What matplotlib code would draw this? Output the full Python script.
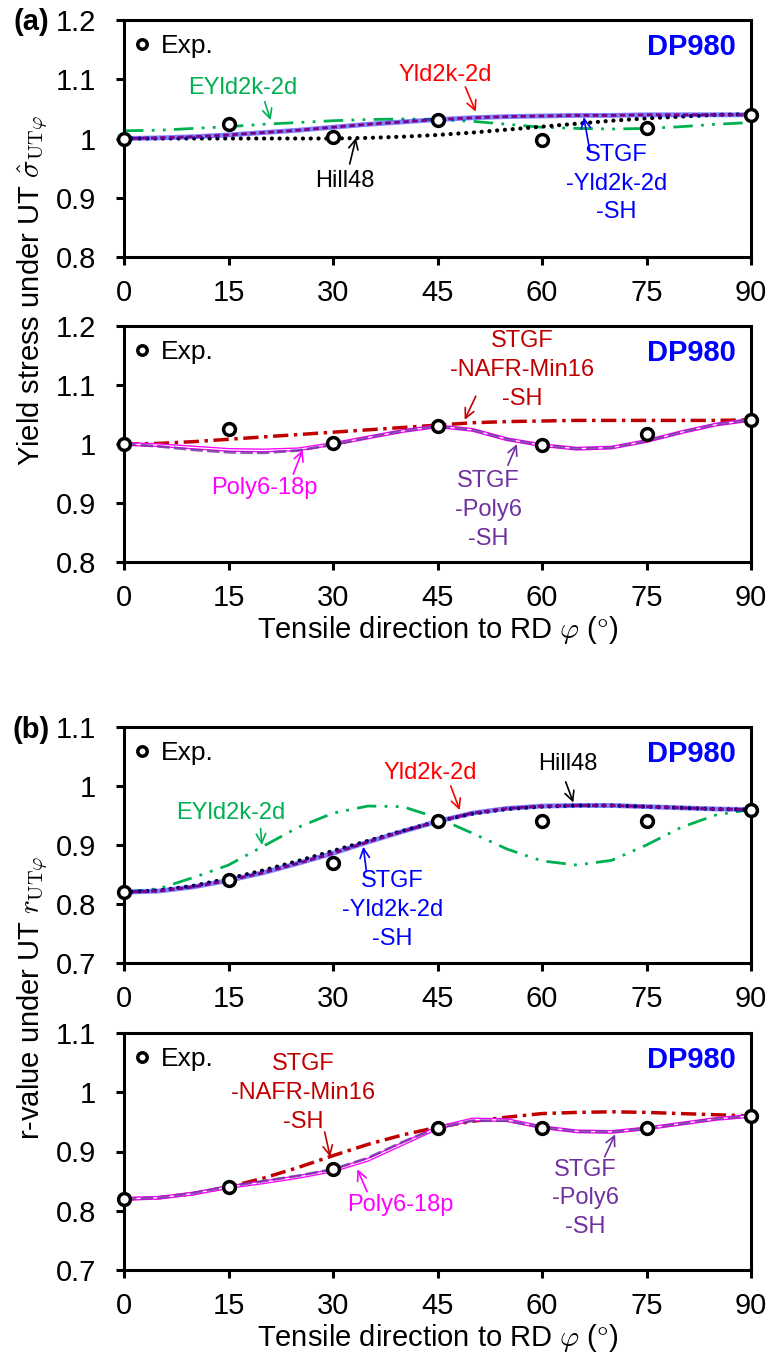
import matplotlib.pyplot as plt

plt.rcParams['font.family'] = ['Liberation Sans', 'DejaVu Sans']
plt.rcParams['mathtext.fontset'] = 'cm'
plt.rcParams['lines.scale_dashes'] = False

# ---- data ----
ang_exp = [0, 15, 30, 45, 60, 75, 90]
ang = list(range(0, 91, 5))
xticks = [0, 15, 30, 45, 60, 75, 90]

ys_ticks = [0.8, 0.9, 1.0, 1.1, 1.2]
ys_ticklabels = ['0.8', '0.9', '1', '1.1', '1.2']
r_ticks = [0.7, 0.8, 0.9, 1.0, 1.1]
r_ticklabels = ['0.7', '0.8', '0.9', '1', '1.1']

ys_exp = [1.000, 1.025, 1.002, 1.031, 0.998, 1.017, 1.040]
r_exp = [0.82, 0.84, 0.87, 0.94, 0.94, 0.94, 0.96]

# yield stress, upper panel
ys_yld2k = [1.000, 1.001, 1.003, 1.006, 1.010, 1.014, 1.019, 1.024, 1.028, 1.032,
            1.035, 1.037, 1.038, 1.039, 1.039, 1.040, 1.040, 1.040, 1.040]
ys_stgf_yld = [1.000, 1.001, 1.003, 1.006, 1.010, 1.014, 1.019, 1.024, 1.028, 1.032,
               1.035, 1.037, 1.038, 1.039, 1.039, 1.040, 1.040, 1.040, 1.040]
ys_hill = [1.000, 1.000, 1.000, 1.000, 1.000, 1.000, 1.000, 1.001, 1.003, 1.006,
           1.010, 1.015, 1.020, 1.025, 1.030, 1.034, 1.037, 1.040, 1.041]
ys_eyld = [1.013, 1.014, 1.017, 1.020, 1.024, 1.027, 1.030, 1.032, 1.033, 1.032,
           1.029, 1.024, 1.019, 1.017, 1.016, 1.017, 1.020, 1.024, 1.027]
# yield stress, lower panel
ys_nafr = [1.000, 1.001, 1.004, 1.008, 1.012, 1.016, 1.020, 1.024, 1.028, 1.032,
           1.036, 1.038, 1.039, 1.040, 1.040, 1.040, 1.040, 1.040, 1.041]
ys_poly18 = [1.000, 0.998, 0.994, 0.990, 0.989, 0.991, 1.000, 1.011, 1.022, 1.030,
             1.024, 1.008, 0.998, 0.992, 0.994, 1.005, 1.020, 1.033, 1.041]
ys_stgf_poly = [1.000, 0.996, 0.990, 0.986, 0.985, 0.989, 0.999, 1.011, 1.022, 1.030,
                1.024, 1.008, 0.998, 0.992, 0.994, 1.005, 1.020, 1.033, 1.041]

# r-value, upper panel
r_yld2k = [0.820, 0.822, 0.829, 0.840, 0.853, 0.869, 0.886, 0.905, 0.923, 0.940,
           0.954, 0.962, 0.966, 0.967, 0.967, 0.965, 0.963, 0.961, 0.960]
r_stgf_yld = [0.820, 0.822, 0.829, 0.840, 0.853, 0.869, 0.886, 0.905, 0.923, 0.940,
              0.954, 0.962, 0.966, 0.967, 0.967, 0.965, 0.963, 0.961, 0.960]
r_hill = [0.820, 0.823, 0.831, 0.843, 0.857, 0.873, 0.890, 0.907, 0.924, 0.940,
          0.953, 0.961, 0.965, 0.967, 0.967, 0.965, 0.963, 0.961, 0.960]
r_eyld = [0.820, 0.826, 0.845, 0.866, 0.898, 0.930, 0.954, 0.966, 0.965, 0.946,
          0.920, 0.893, 0.873, 0.866, 0.874, 0.900, 0.930, 0.951, 0.960]
# r-value, lower panel
r_nafr = [0.820, 0.822, 0.829, 0.840, 0.855, 0.873, 0.893, 0.912, 0.928, 0.941,
          0.951, 0.958, 0.964, 0.966, 0.967, 0.966, 0.964, 0.962, 0.960]
r_poly18 = [0.820, 0.822, 0.829, 0.840, 0.848, 0.857, 0.868, 0.886, 0.913, 0.940,
            0.954, 0.953, 0.941, 0.934, 0.933, 0.939, 0.947, 0.955, 0.960]
r_stgf_poly = [0.820, 0.822, 0.830, 0.841, 0.850, 0.859, 0.870, 0.889, 0.916, 0.940,
               0.952, 0.952, 0.941, 0.934, 0.933, 0.939, 0.947, 0.955, 0.960]

GREEN = '#00B050'
RED = '#FF0000'
BLUE = '#0000FF'
DRED = '#C00000'
MAG = '#FF00FF'
PURP = '#7030A0'

fig = plt.figure(figsize=(7.69, 13.57), dpi=100)
L, W = 124 / 769, 627 / 769
H = 1357
axs = [fig.add_axes([L, 1 - 257 / H, W, 237 / H]),
       fig.add_axes([L, 1 - 562 / H, W, 236 / H]),
       fig.add_axes([L, 1 - 963 / H, W, 236 / H]),
       fig.add_axes([L, 1 - 1270 / H, W, 237 / H])]


def setup(ax, yt, ytl, exp):
    ax.set_xlim(0, 90)
    ax.set_ylim(yt[0], yt[-1])
    ax.set_xticks(xticks)
    ax.set_yticks(yt)
    ax.set_yticklabels(ytl)
    for s in ax.spines.values():
        s.set_linewidth(2.2)
    ax.tick_params(direction='out', length=6, width=2.2, labelsize=21)
    ax.tick_params(axis='x', pad=10)
    ax.tick_params(axis='y', pad=14)
    h, = ax.plot(ang_exp, exp, 'o', ms=8.5, mfc='white', mec='black', mew=2.5,
                 clip_on=False, zorder=10)
    ax.legend([h], ['Exp.'], loc='upper left', bbox_to_anchor=(0, 0.983),
              borderaxespad=0, borderpad=0.38, frameon=False, fontsize=19,
              handlelength=0.6, handletextpad=0.4, markerscale=0.8)
    ax.text(0.976, 0.886, 'DP980', transform=ax.transAxes, ha='right', va='center',
            color=BLUE, fontsize=21, fontweight='bold')


def label(ax, txt, pos, tail, tip, c):
    ax.text(pos[0], pos[1], txt, color=c, fontsize=17, ha='center', va='center',
            linespacing=1.4)
    ax.annotate('', xy=tip, xytext=tail,
                arrowprops=dict(arrowstyle='->', color=c, lw=1.2,
                                shrinkA=0, shrinkB=0, mutation_scale=17))


green_ls = (0, (14, 6, 2, 6, 2, 6))
dred_ls = (0, (11, 4, 2.5, 4))
dot_ls = (0, (0.1, 5.5))

# (a) upper
ax = axs[0]
ax.plot(ang, ys_eyld, color=GREEN, lw=2, ls=green_ls)
ax.plot(ang, ys_hill, color='black', lw=3, ls=dot_ls, dash_capstyle='round')
ax.plot(ang, ys_yld2k, color=RED, lw=2, ls=(0, (4, 2.5)))
ax.plot(ang, ys_stgf_yld, color=BLUE, lw=3.5, alpha=0.5)
setup(ax, ys_ticks, ys_ticklabels, ys_exp)
label(ax, 'EYld2k-2d', (17.0, 1.086), (20.2, 1.062), (21.05, 1.031), GREEN)
label(ax, 'Yld2k-2d', (46.1, 1.108), (49.0, 1.087), (50.5, 1.045), RED)
label(ax, 'Hill48', (31.7, 0.929), (32.4, 0.957), (33.3, 1.001), 'black')
label(ax, 'STGF\n-Yld2k-2d\n-SH', (70.7, 0.924), (66.9, 0.977), (66.0, 1.036), BLUE)

# (a) lower
ax = axs[1]
ax.plot(ang, ys_nafr, color=DRED, lw=2.5, ls=dred_ls)
ax.plot(ang, ys_poly18, color=MAG, lw=2.8)
ax.plot(ang, ys_poly18, color='white', lw=0.9)
ax.plot(ang, ys_stgf_poly, color=PURP, lw=2, ls=(0, (9, 3)), alpha=0.8)
setup(ax, ys_ticks, ys_ticklabels, ys_exp)
ax.set_xlabel(r'Tensile direction to RD $\varphi$ ($\degree$)', fontsize=21, va='center')
ax.xaxis.set_label_coords(0.5, -68 / 236)
label(ax, 'STGF\n-NAFR-Min16\n-SH', (57.1, 1.125), (50.5, 1.081), (48.9, 1.041), DRED)
label(ax, 'Poly6-18p', (20.1, 0.925), (24.3, 0.949), (25.65, 0.990), MAG)
label(ax, 'STGF\n-Poly6\n-SH', (52.3, 0.888), (55.1, 0.964), (56.4, 1.0), PURP)

# (b) upper
ax = axs[2]
ax.plot(ang, r_eyld, color=GREEN, lw=2, ls=green_ls)
ax.plot(ang, r_hill, color='black', lw=3, ls=dot_ls, dash_capstyle='round')
ax.plot(ang, r_yld2k, color=RED, lw=2, ls=(0, (4, 2.5)))
ax.plot(ang, r_stgf_yld, color=BLUE, lw=3.5, alpha=0.5)
setup(ax, r_ticks, r_ticklabels, r_exp)
label(ax, 'EYld2k-2d', (15.3, 0.954), (19.6, 0.928), (19.8, 0.900), GREEN)
label(ax, 'Yld2k-2d', (44.0, 1.0215), (46.9, 1.0), (48.2, 0.959), RED)
label(ax, 'Hill48', (63.7, 1.037), (63.4, 1.007), (64.5, 0.972), 'black')
label(ax, 'STGF\n-Yld2k-2d\n-SH', (38.5, 0.790), (34.8, 0.855), (34.35, 0.897), BLUE)

# (b) lower
ax = axs[3]
ax.plot(ang, r_nafr, color=DRED, lw=2.5, ls=dred_ls)
ax.plot(ang, r_poly18, color=MAG, lw=2.8)
ax.plot(ang, r_poly18, color='white', lw=0.9)
ax.plot(ang, r_stgf_poly, color=PURP, lw=2, ls=(0, (9, 3)), alpha=0.8)
setup(ax, r_ticks, r_ticklabels, r_exp)
ax.set_xlabel(r'Tensile direction to RD $\varphi$ ($\degree$)', fontsize=21, va='center')
ax.xaxis.set_label_coords(0.5, -68 / 237)
label(ax, 'STGF\n-NAFR-Min16\n-SH', (25.7, 0.999), (28.8, 0.933), (29.6, 0.891), DRED)
label(ax, 'Poly6-18p', (39.6, 0.810), (34.9, 0.832), (33.5, 0.870), MAG)
label(ax, 'STGF\n-Poly6\n-SH', (66.2, 0.821), (69.0, 0.891), (70.5, 0.929), PURP)

fig.text(0.042, 1 - 291 / H, r'Yield stress under UT $\hat{\sigma}_{\mathrm{UT}\varphi}$',
         rotation=90, ha='center', va='center', fontsize=21)
fig.text(0.042, 1 - 998 / H, r'r-value under UT $r_{\mathrm{UT}\varphi}$',
         rotation=90, ha='center', va='center', fontsize=21)
fig.text(31 / 769, 1 - 22 / H, '(a)', fontsize=21, fontweight='bold', ha='center', va='center')
fig.text(31 / 769, 1 - 730 / H, '(b)', fontsize=21, fontweight='bold', ha='center', va='center')

fig.savefig('out.png', dpi=100)
